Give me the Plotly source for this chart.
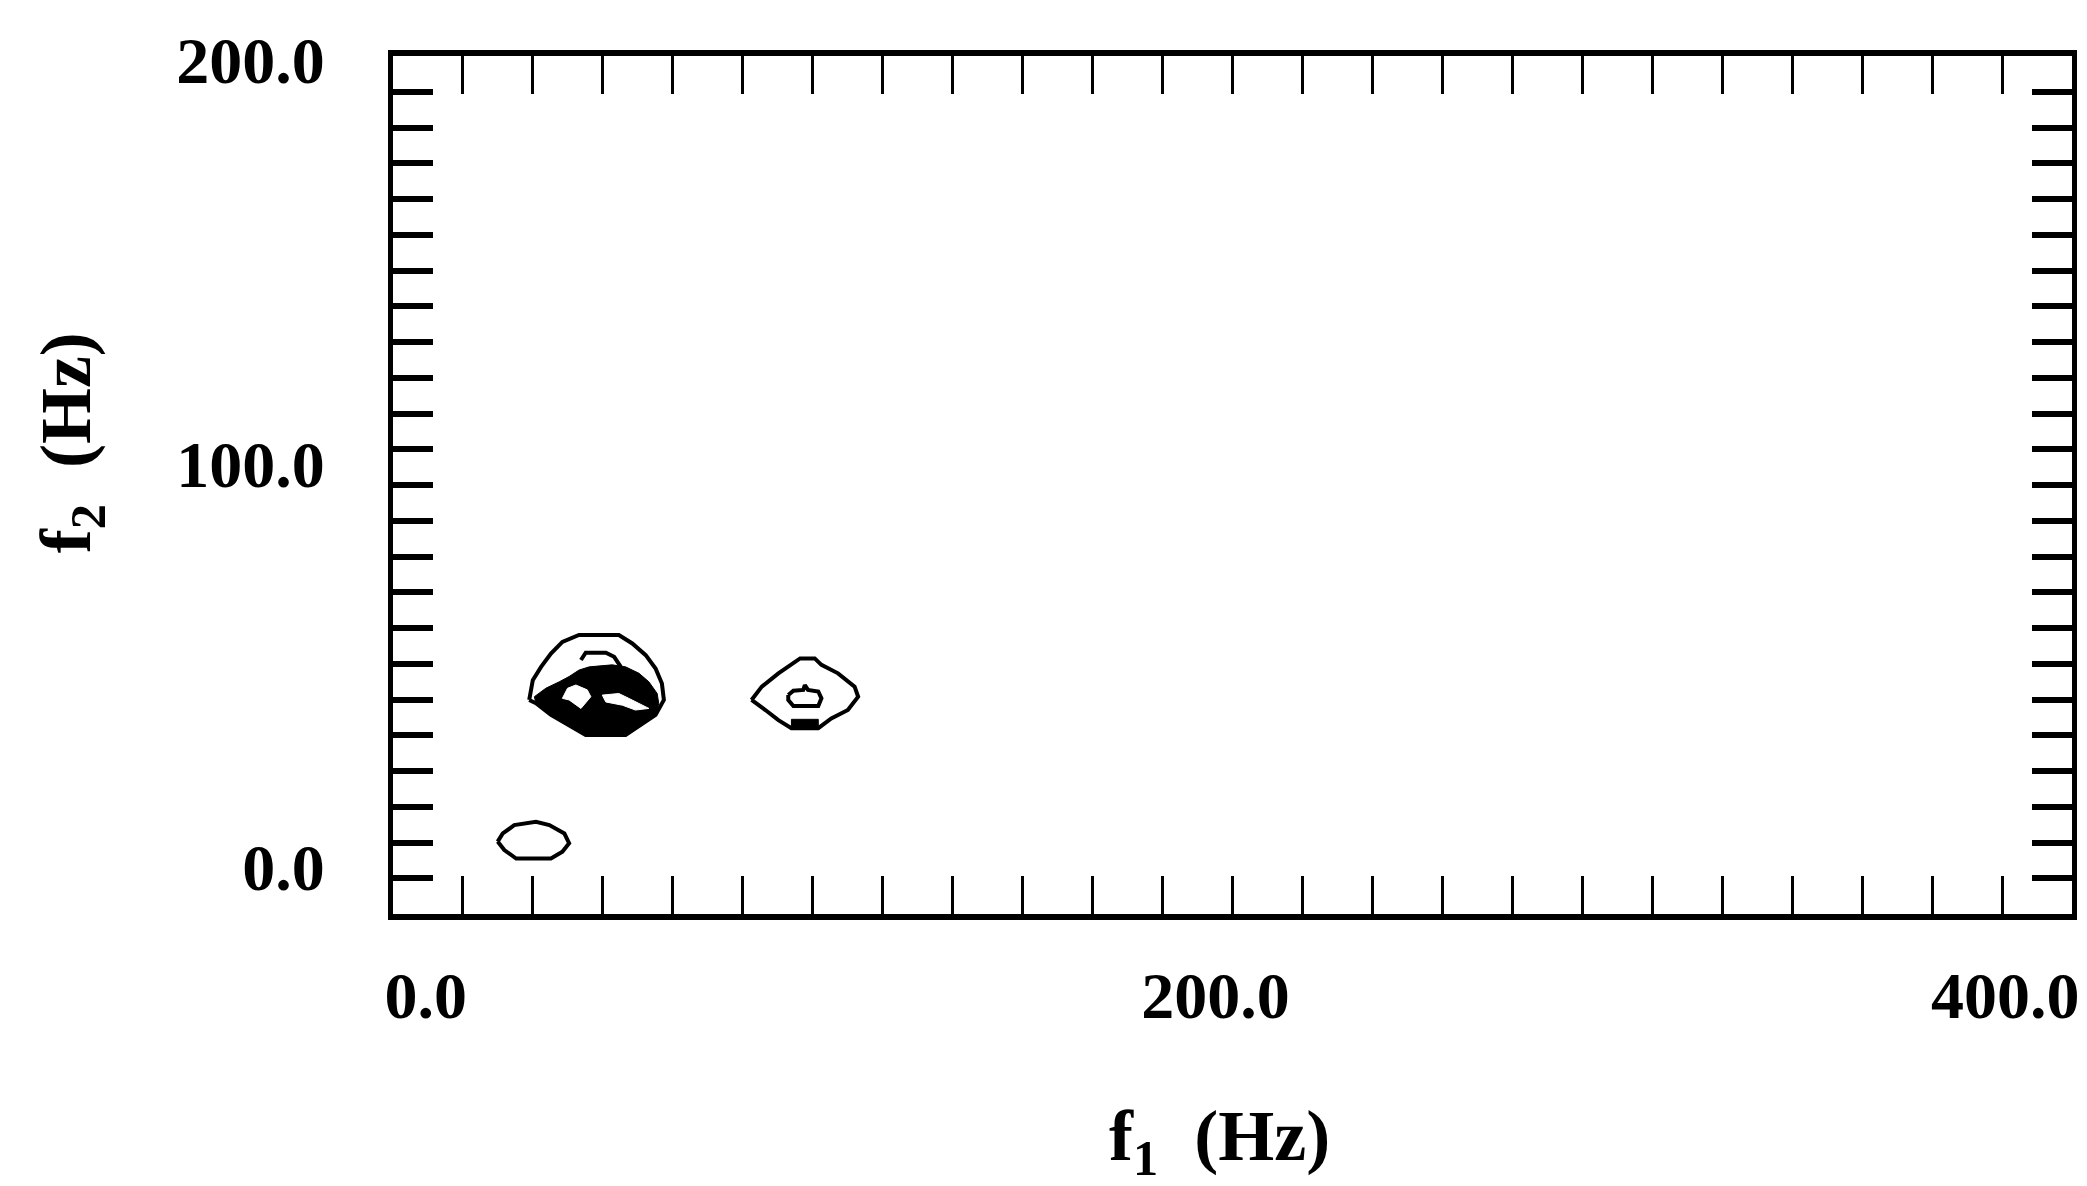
import plotly.graph_objects as go

# ---- data (f1, f2 in Hz) ----
peak_a_outer_f1 = [26.2, 27.1, 29.2, 31.7, 34.6, 38.8, 48.9, 52.3, 55.7, 58.2, 59.8, 60.3, 58.2, 54.0, 50.6, 40.5, 36.3, 31.7, 27.9, 26.2]
peak_a_outer_f2 = [41.4, 46.3, 49.6, 52.9, 55.8, 57.5, 57.5, 55.4, 52.5, 49.2, 45.5, 41.4, 37.7, 34.8, 32.7, 32.7, 35.2, 37.7, 40.6, 41.4]

peak_a_core_f1 = [27.5, 30.4, 33.8, 36.3, 38.8, 41.4, 47.2, 50.6, 54.0, 56.5, 58.6, 59.0, 58.2, 54.0, 50.6, 40.5, 36.3, 31.7, 27.9, 27.5]
peak_a_core_f2 = [42.2, 44.3, 45.9, 47.2, 48.8, 49.6, 50.1, 49.6, 48.0, 45.9, 43.0, 40.5, 37.7, 34.8, 32.7, 32.7, 35.2, 37.7, 40.6, 42.2]

peak_a_hole1_f1 = [34.6, 35.9, 38.0, 40.9, 41.8, 39.3, 36.3, 34.6]
peak_a_hole1_f2 = [41.8, 44.3, 45.1, 43.9, 42.2, 39.3, 41.4, 41.8]
peak_a_hole2_f1 = [44.7, 48.9, 51.4, 56.5, 53.1, 49.8, 45.6, 44.7]
peak_a_hole2_f2 = [42.6, 43.0, 41.8, 39.3, 38.9, 40.1, 40.9, 42.6]

peak_a_arc_f1 = [39.3, 40.5, 45.6, 47.7, 49.4]
peak_a_arc_f2 = [51.3, 53.1, 53.1, 52.1, 49.6]

peak_b_outer_f1 = [82.5, 85.1, 89.3, 92.6, 94.8, 98.5, 100.2, 104.4, 108.6, 109.5, 106.9, 102.7, 99.4, 92.6, 89.3, 86.0, 82.5]
peak_b_outer_f2 = [41.4, 44.7, 48.0, 50.1, 51.7, 51.7, 50.1, 48.0, 44.7, 42.2, 38.9, 36.8, 34.4, 34.4, 36.4, 38.9, 41.4]
peak_b_base_f1 = [92.6, 99.4, 99.4, 92.6, 92.6]
peak_b_base_f2 = [36.6, 36.6, 34.4, 34.4, 36.6]
peak_b_inner_f1 = [91.8, 93.1, 95.6, 96.0, 96.8, 99.4, 100.2, 99.4, 93.1, 91.8, 91.8]
peak_b_inner_f2 = [42.6, 43.7, 43.9, 45.1, 43.9, 43.5, 41.8, 39.9, 39.9, 41.4, 42.6]

peak_c_f1 = [18.2, 19.5, 22.4, 27.9, 31.3, 35.1, 36.3, 34.6, 31.7, 22.9, 19.9, 18.2]
peak_c_f2 = [6.3, 8.3, 10.4, 11.2, 10.4, 8.3, 5.9, 3.8, 2.1, 2.1, 4.2, 6.3]

x_tick_vals = [0, 200, 400]
x_tick_text = ["0.0", "200.0", "400.0"]
y_tick_vals = [0, 100, 200]
y_tick_text = ["0.0", "100.0", "200.0"]

FONT = "Liberation Serif"
fig = go.Figure()

def outline(x, y, w=4):
    fig.add_trace(go.Scatter(x=x, y=y, mode="lines", line=dict(color="black", width=w),
                             hoverinfo="skip", showlegend=False))

def filled(x, y, color):
    fig.add_trace(go.Scatter(x=x, y=y, mode="lines", fill="toself", fillcolor=color,
                             line=dict(color=color, width=1), hoverinfo="skip", showlegend=False))

outline(peak_a_outer_f1, peak_a_outer_f2)
filled(peak_a_core_f1, peak_a_core_f2, "black")
filled(peak_a_hole1_f1, peak_a_hole1_f2, "white")
filled(peak_a_hole2_f1, peak_a_hole2_f2, "white")
outline(peak_a_arc_f1, peak_a_arc_f2)
outline(peak_b_outer_f1, peak_b_outer_f2)
filled(peak_b_base_f1, peak_b_base_f2, "black")
outline(peak_b_inner_f1, peak_b_inner_f2)
outline(peak_c_f1, peak_c_f2)

fig.update_layout(
    width=2087, height=1186,
    margin=dict(l=393, r=8, t=56, b=272),
    paper_bgcolor="white", plot_bgcolor="white",
    showlegend=False,
    xaxis=dict(range=[-8.3, 416.9], showgrid=False, zeroline=False,
               showline=True, linecolor="black", linewidth=6, mirror="allticks",
               tickmode="array", tickvals=x_tick_vals, ticktext=x_tick_text,
               ticks="inside", ticklen=0, tickwidth=0, tickcolor="black",
               tickfont=dict(family=FONT, size=66, color="black", weight="bold"),
               ticklabelstandoff=19,
               minor=dict(ticks="inside", ticklen=38, tickwidth=3, tickcolor="black",
                          tick0=-8.3, dtick=17.72, showgrid=False)),
    yaxis=dict(range=[-11.65, 201.0], showgrid=False, zeroline=False,
               showline=True, linecolor="black", linewidth=5, mirror="allticks",
               tickmode="array", tickvals=y_tick_vals, ticktext=y_tick_text,
               ticks="inside", ticklen=0, tickwidth=0, tickcolor="black",
               tickfont=dict(family=FONT, size=66, color="black", weight="bold"),
               ticklabelstandoff=50,
               minor=dict(ticks="inside", ticklen=40, tickwidth=6, tickcolor="black",
                          tick0=-11.65, dtick=8.86, showgrid=False)),
    annotations=[
        dict(text="f<sub>1</sub>  (Hz)", xref="paper", yref="paper", x=0.4923, y=-0.2646,
             xanchor="center", yanchor="middle", showarrow=False,
             font=dict(family=FONT, size=72, color="black", weight="bold")),
        dict(text="f<sub>2</sub>  (Hz)", xref="paper", yref="paper", x=-0.1916, y=0.549,
             xanchor="center", yanchor="middle", showarrow=False, textangle=-90,
             font=dict(family=FONT, size=72, color="black", weight="bold")),
    ],
)

fig.write_html("out.html")
